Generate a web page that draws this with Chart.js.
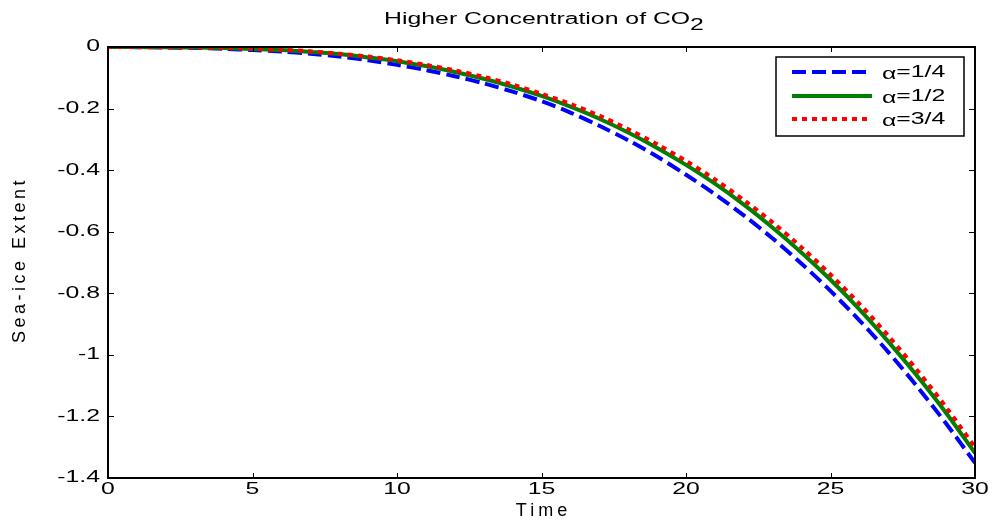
<!DOCTYPE html>
<html>
<head>
<meta charset="utf-8">
<script src="https://cdn.jsdelivr.net/npm/chart.js@4.4.0/dist/chart.umd.min.js"></script>
<style>
  html, body { margin: 0; padding: 0; background: #fff; }
  #wrap { width: 992px; height: 523px; }
</style>
</head>
<body>
<div id="wrap"><canvas id="chart"></canvas></div>
<script>
// values, one point per time unit
const time = [0, 1, 2, 3, 4, 5, 6, 7, 8, 9, 10, 11, 12, 13, 14, 15, 16, 17, 18, 19, 20, 21, 22, 23, 24, 25, 26, 27, 28, 29, 30];
const alphaQuarter = [0, -0.0005, -0.0015, -0.003, -0.006, -0.010, -0.015, -0.022, -0.031, -0.043, -0.058, -0.075, -0.095, -0.118, -0.145, -0.176, -0.213, -0.256, -0.303, -0.356, -0.415, -0.478, -0.547, -0.622, -0.704, -0.792, -0.888, -0.991, -1.103, -1.223, -1.351];
const alphaHalf = [0, -0.0002, -0.0008, -0.0018, -0.0035, -0.0065, -0.010, -0.016, -0.023, -0.034, -0.046, -0.062, -0.081, -0.103, -0.129, -0.159, -0.194, -0.233, -0.278, -0.328, -0.383, -0.444, -0.512, -0.587, -0.668, -0.756, -0.852, -0.957, -1.069, -1.189, -1.319];
const alphaThreeQuarter = [0, -0.0001, -0.0004, -0.001, -0.0025, -0.005, -0.009, -0.014, -0.022, -0.031, -0.043, -0.058, -0.076, -0.097, -0.122, -0.152, -0.185, -0.223, -0.267, -0.316, -0.370, -0.430, -0.497, -0.570, -0.651, -0.739, -0.834, -0.938, -1.050, -1.170, -1.300];
const seriesNames = ['1/4', '1/2', '3/4'];
const xTicks = [0, 5, 10, 15, 20, 25, 30];
const yTicks = [0, -0.2, -0.4, -0.6, -0.8, -1, -1.2, -1.4];
const yTickLabels = ['0', '-0.2', '-0.4', '-0.6', '-0.8', '-1', '-1.2', '-1.4'];

const FONT = '"Liberation Sans", Arial, Helvetica, sans-serif';
const STRETCH = 1.55; // the original figure's text is stretched sideways

function wideText(ctx, text, x, y, align, size) {
  ctx.save();
  ctx.font = size + 'px ' + FONT;
  const w = ctx.measureText(text).width * STRETCH;
  let left = x;
  if (align === 'center') left = x - w / 2;
  else if (align === 'right') left = x - w;
  ctx.translate(left, y);
  ctx.scale(STRETCH, 1);
  ctx.textAlign = 'left';
  ctx.fillText(text, 0, 0);
  ctx.restore();
  return w;
}

function textWidth(ctx, text, size) {
  ctx.save();
  ctx.font = size + 'px ' + FONT;
  const w = ctx.measureText(text).width * STRETCH;
  ctx.restore();
  return w;
}

const matlabFrame = {
  id: 'matlabFrame',
  afterDraw(chart) {
    const { ctx, chartArea: a, scales: { x, y } } = chart;
    ctx.save();
    ctx.fillStyle = '#000';
    ctx.strokeStyle = '#000';

    // inward ticks on all four sides
    ctx.lineWidth = 1;
    ctx.beginPath();
    x.ticks.forEach(t => {
      const px = Math.round(x.getPixelForValue(t.value)) + 0.5;
      ctx.moveTo(px, a.bottom); ctx.lineTo(px, a.bottom - 5);
      ctx.moveTo(px, a.top); ctx.lineTo(px, a.top + 5);
    });
    y.ticks.forEach(t => {
      const py = Math.round(y.getPixelForValue(t.value)) + 0.5;
      ctx.moveTo(a.left, py); ctx.lineTo(a.left + 6, py);
      ctx.moveTo(a.right, py); ctx.lineTo(a.right - 6, py);
    });
    ctx.stroke();

    // axes box
    ctx.lineWidth = 2;
    ctx.strokeRect(a.left, a.top, a.right - a.left, a.bottom - a.top);

    // tick labels
    ctx.textBaseline = 'middle';
    x.ticks.forEach(t => wideText(ctx, t.label, x.getPixelForValue(t.value), a.bottom + 12, 'center', 16));
    y.ticks.forEach(t => wideText(ctx, t.label, a.left - 8, y.getPixelForValue(t.value), 'right', 16));

    // title with subscript
    ctx.textBaseline = 'alphabetic';
    const main = 'Higher Concentration of CO';
    const total = textWidth(ctx, main, 16) + textWidth(ctx, '2', 16);
    const tx = 544 - total / 2;
    const w1 = wideText(ctx, main, tx, 24, 'left', 16);
    wideText(ctx, '2', tx + w1, 30, 'left', 16);

    // axis titles
    ctx.font = '18px ' + FONT;
    ctx.textAlign = 'center';
    ctx.textBaseline = 'middle';
    ctx.letterSpacing = '4px';
    ctx.fillText('Time', (a.left + a.right) / 2 + 2, 511);
    ctx.save();
    ctx.translate(20, 262);
    ctx.rotate(-Math.PI / 2);
    ctx.letterSpacing = '3.5px';
    ctx.fillText('Sea-ice Extent', 2, 0);
    ctx.restore();
    ctx.letterSpacing = '0px';

    // legend
    const lx = 776, ly = 57, lw = 188, lh = 79;
    ctx.fillStyle = '#fff';
    ctx.fillRect(lx, ly, lw, lh);
    ctx.lineWidth = 1.5;
    ctx.strokeStyle = '#000';
    ctx.strokeRect(lx, ly, lw, lh);
    const rows = [72, 96, 119];
    chart.data.datasets.forEach((ds, i) => {
      const ry = rows[i];
      ctx.save();
      ctx.strokeStyle = ds.borderColor;
      ctx.lineWidth = ds.borderWidth;
      ctx.setLineDash(ds.borderDash || []);
      ctx.beginPath();
      ctx.moveTo(792, ry);
      ctx.lineTo(872, ry);
      ctx.stroke();
      ctx.restore();
      ctx.fillStyle = '#000';
      ctx.textBaseline = 'alphabetic';
      const wa = wideText(ctx, 'α', 882, ry + 7, 'left', 16);
      wideText(ctx, '=' + seriesNames[i], 882 + wa, ry + 5, 'left', 16);
    });

    ctx.restore();
  }
};

const toPoints = vals => time.map((t, i) => ({ x: t, y: vals[i] }));

new Chart(document.getElementById('chart'), {
  type: 'line',
  data: {
    datasets: [
      { label: 'α=' + seriesNames[0], data: toPoints(alphaQuarter), borderColor: '#0000ff', borderWidth: 4, borderDash: [14, 6], order: 2 },
      { label: 'α=' + seriesNames[1], data: toPoints(alphaHalf), borderColor: '#008000', borderWidth: 4, order: 1 },
      { label: 'α=' + seriesNames[2], data: toPoints(alphaThreeQuarter), borderColor: '#ff0000', borderWidth: 4, borderDash: [5, 5], order: 0 }
    ]
  },
  options: {
    responsive: true,
    maintainAspectRatio: false,
    animation: false,
    layout: { padding: { top: 47, right: 17, left: 0, bottom: 0 } },
    elements: {
      point: { radius: 0 },
      line: { tension: 0.3, borderCapStyle: 'butt', fill: false }
    },
    plugins: {
      legend: { display: false },
      title: { display: false },
      tooltip: { enabled: false }
    },
    scales: {
      x: {
        type: 'linear',
        min: 0,
        max: 30,
        grid: { display: false },
        border: { display: false },
        ticks: { display: false, callback: v => String(v) },
        afterBuildTicks: s => { s.ticks = xTicks.map(v => ({ value: v })); },
        afterFit: s => { s.height = 45; }
      },
      y: {
        type: 'linear',
        min: -1.4,
        max: 0,
        grid: { display: false },
        border: { display: false },
        ticks: { display: false, callback: v => yTickLabels[yTicks.indexOf(v)] },
        afterBuildTicks: s => { s.ticks = yTicks.map(v => ({ value: v })); },
        afterFit: s => { s.width = 108; }
      }
    }
  },
  plugins: [matlabFrame]
});
</script>
</body>
</html>
